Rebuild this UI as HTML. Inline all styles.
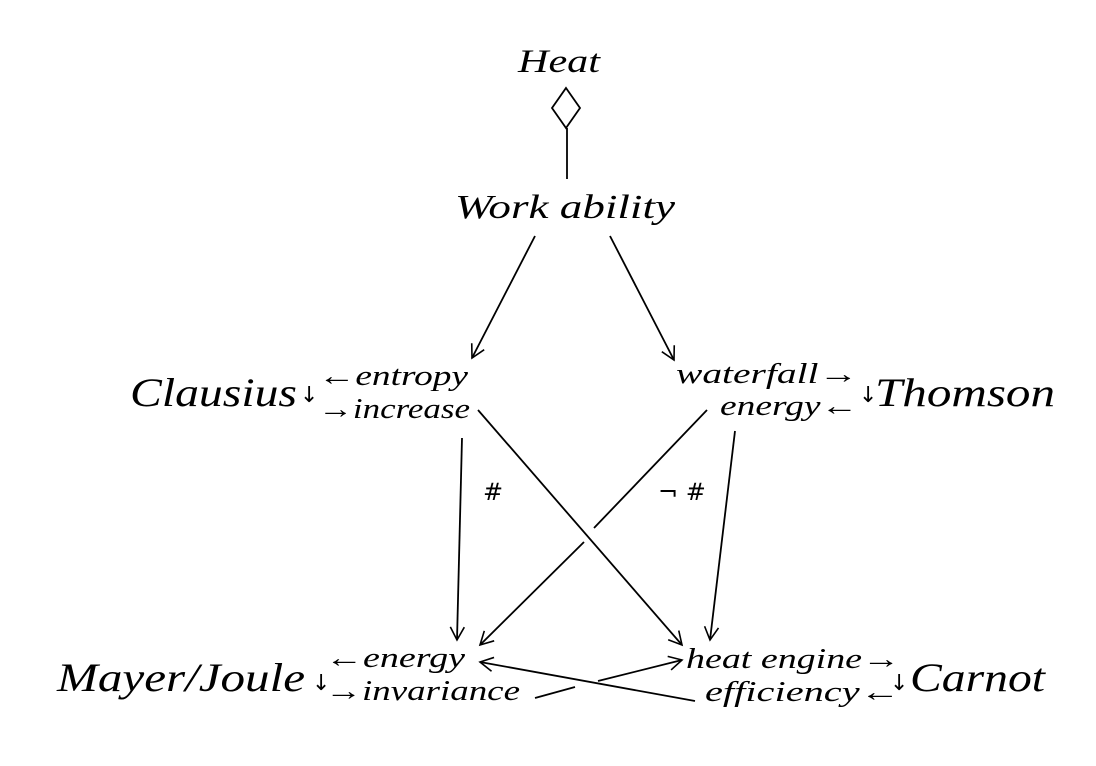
<!DOCTYPE html>
<html><head><meta charset="utf-8"><style>
html,body{margin:0;padding:0;background:#fff;}
svg{display:block;}
text{font-family:"Liberation Serif","DejaVu Serif",serif;font-style:italic;fill:#000;}
.u{font-style:normal;font-family:"DejaVu Sans",sans-serif;}
</style></head><body>
<svg width="1096" height="766" viewBox="0 0 1096 766" xmlns="http://www.w3.org/2000/svg">
<defs><marker id="a" markerWidth="16" markerHeight="16" refX="14" refY="8" orient="auto" markerUnits="userSpaceOnUse"><path d="M1,1 L14,8 L1,15" fill="none" stroke="#000" stroke-width="1.6"/></marker></defs>
<g stroke="#000" stroke-width="1.8" fill="none">
<polygon points="566,88 580,108 566,128 552,108" fill="#fff"/>
<line x1="567" y1="128" x2="567" y2="179"/>
<line x1="535" y1="236" x2="472" y2="358" marker-end="url(#a)"/>
<line x1="610" y1="236" x2="674" y2="360" marker-end="url(#a)"/>
<line x1="462" y1="438" x2="457" y2="640" marker-end="url(#a)"/>
<line x1="478" y1="410" x2="682" y2="645" marker-end="url(#a)"/>
<line x1="707" y1="410" x2="594" y2="528"/>
<line x1="584" y1="542" x2="480" y2="645" marker-end="url(#a)"/>
<line x1="735" y1="431" x2="710" y2="640" marker-end="url(#a)"/>
<line x1="695" y1="701" x2="480" y2="662" marker-end="url(#a)"/>
<line x1="535" y1="698" x2="575" y2="687"/>
<line x1="598" y1="681" x2="682" y2="660" marker-end="url(#a)"/>
</g>
<text x="518" y="72" font-size="33" textLength="82" lengthAdjust="spacingAndGlyphs">Heat</text>
<text x="455" y="218" font-size="34" textLength="220" lengthAdjust="spacingAndGlyphs">Work ability</text>
<text x="130" y="406" font-size="40" textLength="167" lengthAdjust="spacingAndGlyphs">Clausius</text>
<text x="300" y="402" font-size="22" class="u">↓</text>
<text x="318" y="385" font-size="28" textLength="150" lengthAdjust="spacingAndGlyphs">←entropy</text>
<text x="318" y="418" font-size="28" textLength="152" lengthAdjust="spacingAndGlyphs">→increase</text>
<text x="676" y="383" font-size="28" textLength="182" lengthAdjust="spacingAndGlyphs">waterfall→</text>
<text x="720" y="415" font-size="28" textLength="138" lengthAdjust="spacingAndGlyphs">energy←</text>
<text x="859" y="402" font-size="22" class="u">↓</text>
<text x="875" y="406" font-size="40" textLength="180" lengthAdjust="spacingAndGlyphs">Thomson</text>
<text x="483" y="500" font-size="24" class="u">#</text>
<text x="658" y="500" font-size="24" class="u">¬ #</text>
<text x="57" y="691" font-size="40" textLength="248" lengthAdjust="spacingAndGlyphs">Mayer/Joule</text>
<text x="312" y="690" font-size="22" class="u">↓</text>
<text x="325" y="667" font-size="28" textLength="140" lengthAdjust="spacingAndGlyphs">←energy</text>
<text x="325" y="700" font-size="28" textLength="195" lengthAdjust="spacingAndGlyphs">→invariance</text>
<text x="686" y="668" font-size="28" textLength="214" lengthAdjust="spacingAndGlyphs">heat engine→</text>
<text x="705" y="701" font-size="28" textLength="195" lengthAdjust="spacingAndGlyphs">efficiency←</text>
<text x="890" y="690" font-size="22" class="u">↓</text>
<text x="910" y="691" font-size="40" textLength="135" lengthAdjust="spacingAndGlyphs">Carnot</text>
</svg>
</body></html>
